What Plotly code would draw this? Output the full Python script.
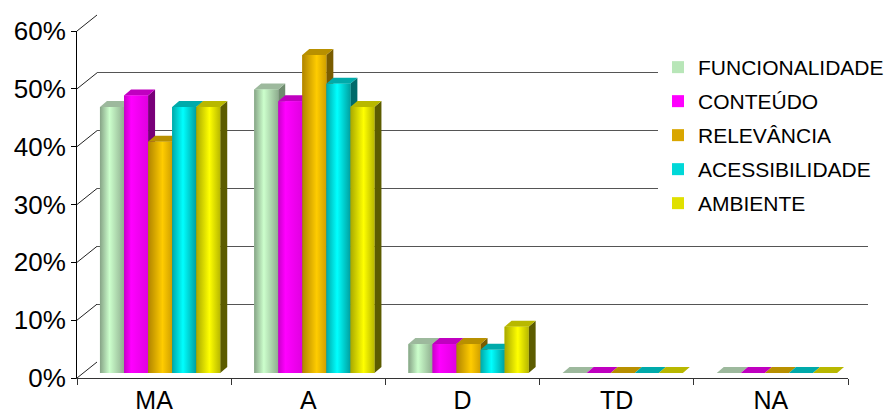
import plotly.graph_objects as go

# ---------------- data ----------------
categories = ["MA", "A", "D", "TD", "NA"]
series_names = ["FUNCIONALIDADE", "CONTEÚDO", "RELEVÂNCIA", "ACESSIBILIDADE", "AMBIENTE"]
funcionalidade = [0.46, 0.49, 0.05, 0.0, 0.0]
conteudo = [0.48, 0.47, 0.05, 0.0, 0.0]
relevancia = [0.40, 0.55, 0.05, 0.0, 0.0]
acessibilidade = [0.46, 0.50, 0.04, 0.0, 0.0]
ambiente = [0.46, 0.46, 0.08, 0.0, 0.0]
y_ticks = [0.0, 0.1, 0.2, 0.3, 0.4, 0.5, 0.6]

series_values = [funcionalidade, conteudo, relevancia, acessibilidade, ambiente]

# ---------------- styles ----------------
# (left, light, right, side, top, legend, light-position)
styles = [
    ("#86a386", "#ccffcc", "#8fae8f", "#6f8c6f", "#9db99d", "#b8e6b8", 0.40),
    ("#c800c8", "#ff00ff", "#e000e0", "#780078", "#c000c0", "#ff00ff", 0.30),
    ("#b08400", "#ffcc00", "#d0a000", "#7a5c00", "#b89000", "#d9a600", 0.60),
    ("#00a8a8", "#00ffff", "#00a0a0", "#006a6a", "#00aaaa", "#00d8d8", 0.45),
    ("#a8a800", "#ffff00", "#b8b800", "#5c5c00", "#b8b800", "#e0e000", 0.55),
]

W, H = 890, 417
FONT = "Liberation Sans, Arial, sans-serif"


def px(x):
    return x / W


def py(y):
    return 1 - y / H


# pixel geometry of the pseudo-3D frame
FRONT_X = (77, 848)
FRONT_Y0, FRONT_Y60 = 378, 31
DEPTH_X, DEPTH_Y = 20, -16
BAR_X = (83, 854)
BAR_Y0, BAR_Y60 = 373, 26

YMAX = 0.6
n_cat = len(categories)
n_ser = len(series_names)
GROUP = 0.78
BW = GROUP / n_ser

# depth of each bar, converted to bar-axis units
x_per_px = n_cat / (BAR_X[1] - BAR_X[0])
y_per_px = YMAX / (BAR_Y0 - BAR_Y60)
DX = 7 * x_per_px
DY = 6 * y_per_px

fig = go.Figure()

# back wall subplot (x, y) -> only gridlines
fig.add_trace(go.Scatter(x=[0], y=[0], xaxis="x", yaxis="y", mode="markers",
                         marker=dict(opacity=0), hoverinfo="skip", showlegend=False))
# front axes subplot (x2, y2) -> axis lines, ticks, labels
fig.add_trace(go.Scatter(x=categories, y=[0] * n_cat, xaxis="x2", yaxis="y2",
                         mode="markers", marker=dict(opacity=0),
                         hoverinfo="skip", showlegend=False))

# bars (x3, y3)
xs = list(range(n_cat))
for i, (name, vals) in enumerate(zip(series_names, series_values)):
    st = styles[i]
    fig.add_trace(go.Bar(
        x=xs, y=vals, name=name, xaxis="x3", yaxis="y3",
        width=BW, offset=-GROUP / 2 + i * BW,
        marker=dict(color=st[5], line=dict(width=0)),
        legendgroup=name, hovertemplate=name + ": %{y:.0%}<extra></extra>",
    ))

for i, (name, vals) in enumerate(zip(series_names, series_values)):
    st = styles[i]
    sx, sy, tx, ty = [], [], [], []
    for j, v in enumerate(vals):
        l = j - GROUP / 2 + i * BW
        r = l + BW
        sx += [r, r + DX, r + DX, r, r, None]
        sy += [0, DY, v + DY, v, 0, None]
        tx += [l, r, r + DX, l + DX, l, None]
        ty += [v, v, v + DY, v + DY, v, None]
    fig.add_trace(go.Scatter(x=sx, y=sy, xaxis="x3", yaxis="y3", mode="none",
                             fill="toself", fillcolor=st[3], hoverinfo="skip",
                             showlegend=False, legendgroup=name))
    fig.add_trace(go.Scatter(x=tx, y=ty, xaxis="x3", yaxis="y3", mode="none",
                             fill="toself", fillcolor=st[4], hoverinfo="skip",
                             showlegend=False, legendgroup=name))
    for j, v in enumerate(vals):
        if v <= 0:
            continue
        l = j - GROUP / 2 + i * BW
        r = l + BW
        fig.add_trace(go.Scatter(
            x=[l, r, r, l, l], y=[0, 0, v, v, 0], xaxis="x3", yaxis="y3",
            mode="none", fill="toself",
            fillgradient=dict(type="horizontal",
                              colorscale=[[0, st[0]], [st[6], st[1]], [1, st[2]]]),
            hoverinfo="skip", showlegend=False, legendgroup=name))

# diagonal edges on the left wall
shapes = []
scale = (FRONT_Y0 - FRONT_Y60) / YMAX
for t in y_ticks:
    yf = FRONT_Y0 - t * scale
    shapes.append(dict(type="line", xref="paper", yref="paper",
                       x0=px(FRONT_X[0]), y0=py(yf),
                       x1=px(FRONT_X[0] + DEPTH_X), y1=py(yf + DEPTH_Y),
                       line=dict(color="#222", width=1), layer="below"))

fig.update_layout(
    width=W, height=H,
    margin=dict(l=0, r=0, t=0, b=0, autoexpand=False),
    paper_bgcolor="white", plot_bgcolor="rgba(0,0,0,0)",
    font=dict(family=FONT, color="black"),
    barmode="overlay",
    shapes=shapes,
    showlegend=True,
    legend=dict(x=px(658), y=py(47), xanchor="left", yanchor="top",
                bgcolor="white", font=dict(size=21, family=FONT),
                traceorder="grouped", tracegroupgap=3.7, itemclick=False),
    xaxis=dict(domain=[px(FRONT_X[0] + DEPTH_X), px(FRONT_X[1] + DEPTH_X)],
               range=[-0.5, 4.5], visible=False, anchor="y"),
    yaxis=dict(domain=[py(FRONT_Y0 + DEPTH_Y), py(FRONT_Y60 + DEPTH_Y)],
               range=[0, YMAX], tickvals=y_ticks, showgrid=True,
               gridcolor="#555", gridwidth=1, showticklabels=False,
               zeroline=False, showline=False, ticks="", anchor="x"),
    xaxis2=dict(domain=[px(FRONT_X[0]), px(FRONT_X[1])], anchor="y2",
                type="category", categoryorder="array", categoryarray=categories,
                range=[-0.5, 4.5], tickson="boundaries", ticks="outside",
                ticklen=6, tickcolor="#333", showline=True, linecolor="#333",
                showgrid=False, zeroline=False, ticklabelstandoff=0,
                tickfont=dict(size=25, family=FONT, color="black")),
    yaxis2=dict(domain=[py(FRONT_Y0), py(FRONT_Y60)], anchor="x2",
                range=[0, YMAX], tickvals=y_ticks, tickformat=".0%",
                ticks="outside", ticklen=5, tickcolor="black",
                showline=True, linecolor="black", showgrid=False,
                zeroline=False, tickfont=dict(size=26, family=FONT, color="black")),
    xaxis3=dict(domain=[px(BAR_X[0]), px(BAR_X[1])], range=[-0.5, 4.5],
                visible=False, anchor="y3"),
    yaxis3=dict(domain=[py(BAR_Y0), py(BAR_Y60)], range=[0, YMAX],
                visible=False, anchor="x3"),
)

fig.write_html("out.html")
